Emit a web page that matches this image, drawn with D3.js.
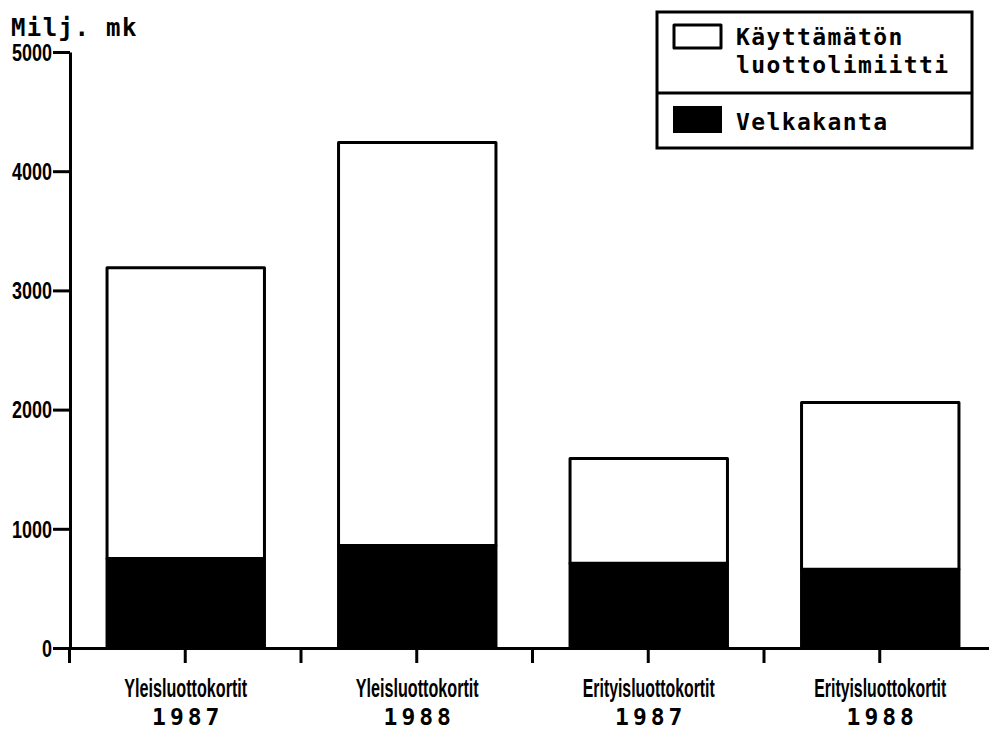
<!DOCTYPE html>
<html>
<head>
<meta charset="utf-8">
<script src="https://cdn.jsdelivr.net/npm/d3@7"></script>
<style>
  body { margin: 0; background: #fff; }
  .mono { font-family: "DejaVu Sans Mono", monospace; font-weight: bold; }
  .narrow { font-family: "Liberation Sans Narrow", "Liberation Sans", sans-serif; font-weight: bold; }
</style>
</head>
<body>
<div id="chart"></div>
<script>
// data (milj. mk)
const categories = ["Yleisluottokortit", "Yleisluottokortit", "Erityisluottokortit", "Erityisluottokortit"];
const years = ["1987", "1988", "1987", "1988"];
const velkakanta = [750, 860, 710, 660];
const kayttamaton = [2440, 3380, 880, 1400];
const yTicks = [0, 1000, 2000, 3000, 4000, 5000];
const legendLabels = [["Käyttämätön", "luottolimiitti"], ["Velkakanta"]];

// svg set up
let svgWidth = 989;
let svgHeight = 731;
let margin = { top: 52, left: 70, bottom: 83, right: 0 };
let plotBottom = svgHeight - margin.bottom;

let svg = d3.select("#chart")
    .append("svg")
    .attr("width", svgWidth)
    .attr("height", svgHeight);

// build rows for the stack
let rows = categories.map((c, i) => ({
    key: i,
    velka: velkakanta[i],
    vapaa: kayttamaton[i]
}));
let series = d3.stack().keys(["velka", "vapaa"])(rows);

// scales
let bandWidth = 231.5;
let xBand = d3.scaleBand()
    .domain(d3.range(categories.length))
    .range([margin.left, margin.left + bandWidth * categories.length])
    .paddingInner(0.32)
    .paddingOuter(0.16);
let xTick = d3.scaleLinear()
    .domain([0, categories.length])
    .range([margin.left - 1, margin.left - 1 + bandWidth * categories.length]);
let yScale = d3.scaleLinear()
    .domain([0, 5000])
    .range([plotBottom, margin.top]);

// bars
let fills = { velka: "#000", vapaa: "#fff" };
series.forEach(s => {
    svg.append("g").selectAll("rect")
        .data(s)
        .enter()
        .append("rect")
        .attr("x", (d, i) => xBand(i))
        .attr("y", d => yScale(d[1]))
        .attr("width", xBand.bandwidth())
        .attr("height", d => yScale(d[0]) - yScale(d[1]))
        .attr("fill", fills[s.key])
        .attr("stroke", "#000")
        .attr("stroke-width", 3)
        .attr("stroke-linejoin", "round");
});

// y axis
let leftAxis = d3.axisLeft(yScale)
    .tickValues(yTicks)
    .tickSize(17)
    .tickSizeOuter(0)
    .tickPadding(1)
    .tickFormat(d3.format("d"));
let yAxis = svg.append("g")
    .attr("transform", `translate(${margin.left},0)`)
    .call(leftAxis);
yAxis.select(".domain").attr("stroke-width", 3);
yAxis.selectAll(".tick line").attr("stroke-width", 3);
yAxis.selectAll(".tick text")
    .attr("class", "narrow")
    .attr("font-size", 23)
    .attr("fill", "#000")
    .attr("dy", "0.36em")
    .attr("textLength", d => String(d).length * 10)
    .attr("lengthAdjust", "spacingAndGlyphs");

// x axis: ticks at band edges and centres
let bottomAxis = d3.axisBottom(xTick)
    .tickValues(d3.range(0, categories.length + 0.01, 0.5))
    .tickSize(15)
    .tickSizeOuter(0)
    .tickFormat("");
let xAxis = svg.append("g")
    .attr("transform", `translate(0,${plotBottom})`)
    .call(bottomAxis);
xAxis.select(".domain").attr("stroke-width", 3);
xAxis.selectAll(".tick line").attr("stroke-width", 3);

// category labels
svg.append("g").selectAll("text")
    .data(categories)
    .enter()
    .append("text")
    .attr("class", "narrow")
    .attr("x", (d, i) => xBand(i) + xBand.bandwidth() / 2)
    .attr("y", 697)
    .attr("text-anchor", "middle")
    .attr("font-size", 26)
    .attr("textLength", d => d.length > 17 ? 132 : 123)
    .attr("lengthAdjust", "spacingAndGlyphs")
    .text(d => d);

svg.append("g").selectAll("text")
    .data(years)
    .enter()
    .append("text")
    .attr("class", "mono")
    .attr("x", (d, i) => xBand(i) + xBand.bandwidth() / 2 + 2)
    .attr("y", 725)
    .attr("text-anchor", "middle")
    .attr("font-size", 23)
    .attr("letter-spacing", 4)
    .text(d => d);

// unit label
svg.append("text")
    .attr("class", "mono")
    .attr("x", 11)
    .attr("y", 36)
    .attr("font-size", 24)
    .attr("letter-spacing", 1.4)
    .text("Milj. mk");

// legend
let legend = svg.append("g");
legend.append("rect")
    .attr("x", 657).attr("y", 12)
    .attr("width", 315).attr("height", 136)
    .attr("fill", "none").attr("stroke", "#000").attr("stroke-width", 3);
legend.append("line")
    .attr("x1", 657).attr("x2", 972)
    .attr("y1", 93).attr("y2", 93)
    .attr("stroke", "#000").attr("stroke-width", 3);
legend.append("rect")
    .attr("x", 674).attr("y", 25)
    .attr("width", 47).attr("height", 23)
    .attr("fill", "#fff").attr("stroke", "#000").attr("stroke-width", 3)
    .attr("stroke-linejoin", "round");
legend.append("rect")
    .attr("x", 673).attr("y", 106)
    .attr("width", 49).attr("height", 27)
    .attr("fill", "#000");
legendLabels[0].forEach((t, i) => {
    legend.append("text")
        .attr("class", "mono")
        .attr("x", 736).attr("y", 45 + i * 28)
        .attr("font-size", 23)
        .attr("letter-spacing", 1.4)
        .text(t);
});
legend.append("text")
    .attr("class", "mono")
    .attr("x", 736).attr("y", 130)
    .attr("font-size", 23)
    .attr("letter-spacing", 1.4)
    .text(legendLabels[1][0]);
</script>
</body>
</html>
